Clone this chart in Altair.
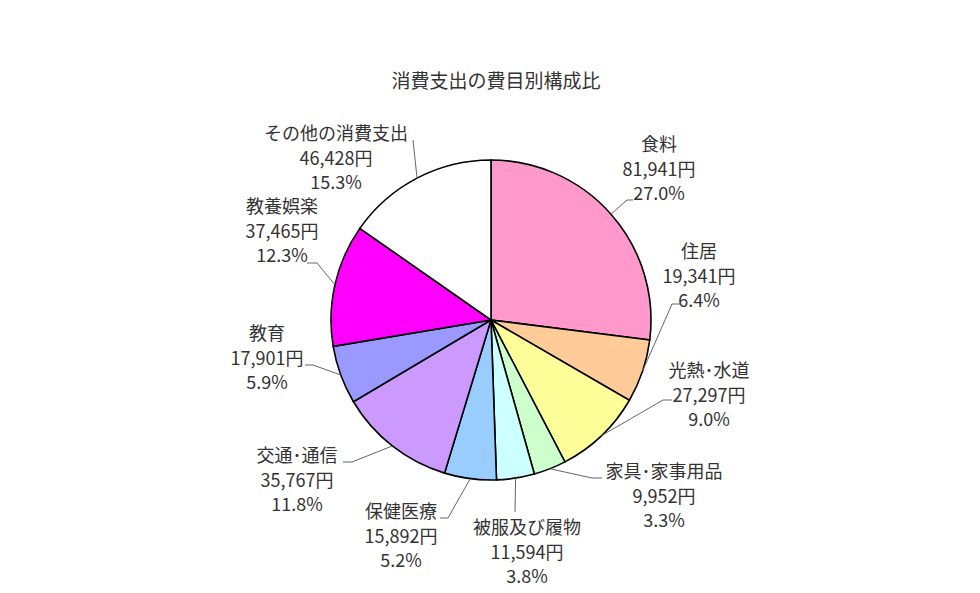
import math
import altair as alt
import pandas as pd

# ---- data ----
title = "消費支出の費目別構成比"
categories = ["食料", "住居", "光熱･水道", "家具･家事用品", "被服及び履物",
              "保健医療", "交通･通信", "教育", "教養娯楽", "その他の消費支出"]
values = [81941, 19341, 27297, 9952, 11594, 15892, 35767, 17901, 37465, 46428]
percents = ["27.0%", "6.4%", "9.0%", "3.3%", "3.8%", "5.2%", "11.8%", "5.9%", "12.3%", "15.3%"]
colors = ["#FF99CC", "#FFCC99", "#FFFF99", "#CCFFCC", "#CCFFFF",
          "#99CCFF", "#CC99FF", "#9999FF", "#FF00FF", "#FFFFFF"]

# ---- layout (plot-area pixels) ----
W, H = 964, 584
CX, CY, R = 483, 312, 160
label_x = [651, 691, 701, 656, 519, 393, 289, 259, 274, 328]
label_y = [138, 245, 364, 465, 521, 505, 449, 327, 200, 127]
LINE = 24.5
# leader elbow and end points (after the point on the arc)
leader_pts = [
    [(619, 192), (625, 192)],
    [(664, 296), (672, 296)],
    [(655, 392), (664, 392)],
    [(584, 470), (594, 470)],
    [(507, 504)],
    [(440, 510), (432, 510)],
    [(344, 454), (335, 454)],
    [(305, 357), (297, 357)],
    [(309, 255), (299, 255)],
    [(405, 132)],
]

total = sum(values)
df = pd.DataFrame({"cat": categories, "value": values, "idx": list(range(len(values)))})

# text rows
rows = []
for i, c in enumerate(categories):
    lines = [c, f"{values[i]:,}円", percents[i]]
    for k, t in enumerate(lines):
        rows.append({"x": label_x[i], "y": label_y[i] + k * LINE, "t": t})
tdf = pd.DataFrame(rows)

# leader rows: start on the arc at each slice's mid-angle
lrows = []
cum = 0
for i, v in enumerate(values):
    mid = (cum + v / 2) / total * 2 * math.pi
    cum += v
    sx = CX + R * math.sin(mid)
    sy = CY - R * math.cos(mid)
    pts = [(sx, sy)] + leader_pts[i]
    for k, (px, py) in enumerate(pts):
        lrows.append({"cat": categories[i], "k": k, "x": px, "y": py})
ldf = pd.DataFrame(lrows)

pie = alt.Chart(df).mark_arc(outerRadius=R, stroke="black", strokeWidth=1.6).encode(
    theta=alt.Theta("value:Q", stack=True),
    color=alt.Color("cat:N", scale=alt.Scale(domain=categories, range=colors), legend=None),
    order=alt.Order("idx:Q"),
    x=alt.value(CX),
    y=alt.value(CY),
)

leaders = alt.Chart(ldf).mark_line(color="#666666", strokeWidth=1).encode(
    x=alt.X("x:Q", scale=None, axis=None),
    y=alt.Y("y:Q", scale=None, axis=None),
    detail="cat:N",
    order="k:Q",
)

labels = alt.Chart(tdf).mark_text(
    font="Noto Sans CJK JP", fontSize=18, color="#333333", align="center", baseline="middle"
).encode(
    x=alt.X("x:Q", scale=None, axis=None),
    y=alt.Y("y:Q", scale=None, axis=None),
    text="t:N",
)

ttl = alt.Chart(pd.DataFrame({"t": [title]})).mark_text(
    font="Noto Sans CJK JP", fontSize=19, color="#333333", align="center", baseline="middle"
).encode(x=alt.value(488), y=alt.value(74), text="t:N")

chart = alt.layer(pie, leaders, labels, ttl).properties(
    width=W, height=H, autosize=alt.AutoSizeParams(type="none"), padding=0
).configure_view(stroke=None)

chart.save("out.html", embed_options={"renderer": "svg", "actions": False})
